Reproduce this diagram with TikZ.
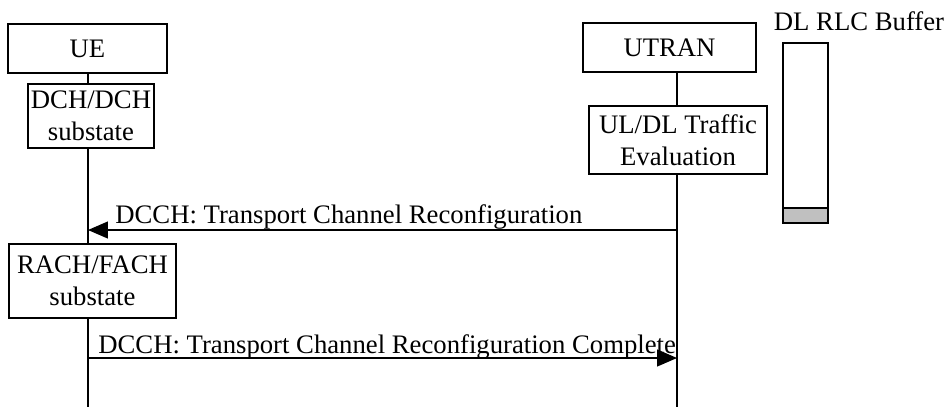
\documentclass[tikz,border=0pt]{standalone}
\usepackage{fontspec}
\setmainfont{Liberation Serif}
\usetikzlibrary{arrows.meta}
\definecolor{bufgray}{RGB}{192,192,192}
\tikzset{
	entity/.style={draw, line width=0.7pt, inner sep=0pt, align=center, font=\fontsize{15.2}{18}\selectfont},
	msg/.style={line width=0.7pt, -{Triangle[length=0.4cm, width=0.34cm]}},
	lbl/.style={inner sep=0pt, font=\fontsize{15.2}{18}\selectfont}
}
\begin{document}
\begin{tikzpicture}[x=0.02cm, y=-0.02cm]
	\useasboundingbox (0,0) rectangle (946,407);
	% entities
	\node[entity, minimum width=159*0.02cm, minimum height=49*0.02cm] (ue) at (87.5,48.5) {UE};
	\node[entity, minimum width=173*0.02cm, minimum height=49*0.02cm] (utran) at (669.5,47.5) {UTRAN};
	\node[entity, minimum width=126*0.02cm, minimum height=64*0.02cm] (dch) at (91,116) {DCH/DCH\\substate};
	\node[entity, minimum width=178*0.02cm, minimum height=68*0.02cm] (eval) at (678,140) {UL/DL Traffic\\Evaluation};
	\node[entity, minimum width=167*0.02cm, minimum height=74*0.02cm] (rach) at (92.5,281) {RACH/FACH\\substate};

	% life lines
	\coordinate (uebot) at (88,407);
	\coordinate (utranbot) at (677,407);
	\draw[line width=0.7pt] (88,73) -- (88,84);
	\draw[line width=0.7pt] (88,148) -- (88,244);
	\draw[line width=0.7pt] (88,318) -- (uebot);
	\draw[line width=0.7pt] (677,72) -- (677,106);
	\draw[line width=0.7pt] (677,174) -- (utranbot);

	% buffer
	\node[lbl, anchor=base] (buflbl) at (859,30) {DL RLC Buffer};
	\draw[line width=0.7pt, fill=bufgray] (783,208) rectangle (828,223);
	\draw[line width=0.7pt] (783,43) rectangle (828,223);

	% messages
	\coordinate (ue1) at (88,230);
	\coordinate (utran1) at (677,230);
	\coordinate (ue2) at (88,358);
	\coordinate (utran2) at (677,358);
	\draw[msg] (utran1) -- (ue1);
	\node[lbl, anchor=base west] (m1) at (115,223) {DCCH: Transport Channel Reconfiguration};
	\draw[msg] (ue2) -- (utran2);
	\node[lbl, anchor=base west] (m2) at (98,353) {DCCH: Transport Channel Reconfiguration Complete};
\end{tikzpicture}
\end{document}
